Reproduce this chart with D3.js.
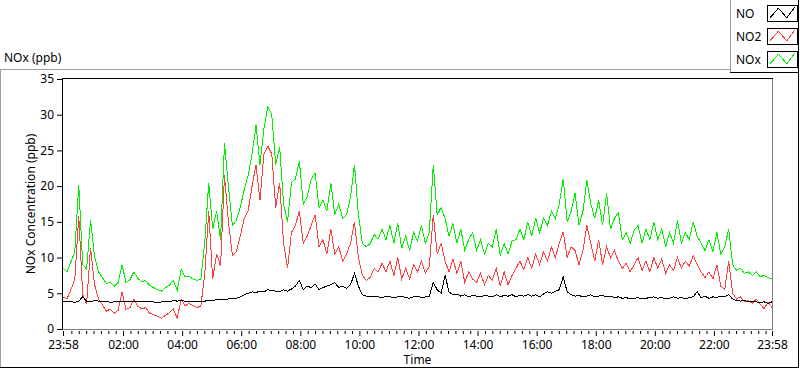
<!DOCTYPE html>
<html>
<head>
<meta charset="utf-8">
<script src="https://cdn.jsdelivr.net/npm/d3@7"></script>
<style>
    body { margin: 0; background: #fff; }
    svg text { font-family: "Noto Sans", sans-serif; font-size: 12px; fill: #000; }
</style>
</head>
<body>
<div id="chart"></div>
<script>
// series names / colours (legend order)
const seriesNames = ["NO", "NO2", "NOx"];
const seriesColors = ["#000000", "#ff4040", "#00f000"];

// one reading every 8 minutes from 23:58 to 23:58 next day
const startTime = "2020-01-01T23:58";
const stepMinutes = 8;

const noValues = [
    3.9, 3.8, 3.9, 3.7, 3.9, 4.5, 3.9, 3.8, 4.0, 3.9,
    3.8, 3.9, 3.7, 3.8, 3.9, 3.8, 3.8, 3.9, 3.8, 3.9,
    3.8, 3.8, 3.9, 3.8, 3.7, 3.8, 3.9, 3.8, 4.0, 3.9,
    4.0, 3.9, 3.8, 3.9, 3.8, 3.9, 3.9, 4.0, 4.0, 4.1,
    4.1, 4.2, 4.2, 4.3, 4.3, 4.5, 4.8, 5.0, 5.2, 5.1,
    5.3, 5.2, 5.5, 5.4, 5.3, 5.2, 5.5, 5.3, 5.6, 6.0,
    6.8, 5.5, 6.0, 5.8, 6.3, 5.5, 5.8, 6.0, 6.2, 6.5,
    5.8, 6.0, 5.7, 6.2, 7.8, 6.0, 4.8, 4.6, 4.5, 4.6,
    4.5, 4.4, 4.6, 4.5, 4.4, 4.5, 4.6, 4.4, 4.3, 4.5,
    4.6, 4.4, 4.5, 4.6, 6.5, 5.5, 5.0, 7.5, 5.2, 4.8,
    4.9, 4.6, 4.8, 4.5, 4.7, 4.6, 4.5, 4.7, 4.6, 4.5,
    4.8, 4.5, 4.7, 4.6, 4.8, 4.5, 4.7, 4.6, 4.8, 4.6,
    4.8, 4.5, 4.9, 5.2, 5.0, 5.3, 5.5, 7.3, 5.2, 4.8,
    4.6, 4.7, 4.5, 4.6, 4.8, 4.5, 4.6, 4.7, 4.5, 4.6,
    4.4, 4.5, 4.3, 4.4, 4.2, 4.3, 4.4, 4.2, 4.3, 4.4,
    4.5, 4.3, 4.4, 4.2, 4.3, 4.5, 4.3, 4.4, 4.2, 4.4,
    4.5, 5.2, 4.4, 4.6, 4.3, 4.5, 4.4, 4.6, 4.5, 4.8,
    4.2, 4.0, 3.9, 4.0, 3.8, 3.9, 3.8, 3.7, 3.8, 3.6, 3.8
];
const no2Values = [
    4.5, 4.2, 5.5, 7.0, 15.8, 4.8, 3.5, 11.4, 6.2, 4.2,
    3.4, 2.5, 2.8, 2.2, 2.6, 5.2, 2.7, 3.0, 4.2, 3.2,
    2.8, 3.0, 2.2, 2.0, 1.8, 1.5, 1.9, 2.3, 2.8, 1.5,
    4.2, 3.2, 3.6, 3.3, 3.0, 3.2, 7.8, 16.5, 7.0, 10.5,
    8.8, 21.5, 15.0, 10.3, 10.8, 13.0, 15.5, 16.5, 20.0, 23.0,
    18.0, 24.5, 25.6, 24.5, 17.0, 20.5, 12.0, 8.5, 13.5, 14.5,
    16.5, 12.0, 13.0, 14.5, 16.0, 11.5, 12.5, 10.5, 14.0, 10.5,
    11.5, 9.5, 10.5, 12.0, 15.0, 10.0, 7.5, 6.8, 7.2, 8.5,
    8.0, 9.2, 8.0, 9.5, 7.5, 10.0, 7.0, 8.5, 7.0, 9.0,
    8.0, 9.5, 7.8, 8.8, 16.0, 10.5, 12.0, 9.5, 8.0, 9.8,
    7.8, 9.5, 6.5, 8.0, 7.0, 6.5, 7.8, 6.2, 7.5, 6.8,
    8.5, 6.0, 8.0, 6.2, 7.5, 8.5, 9.5, 8.3, 10.0, 8.5,
    10.5, 9.0, 10.8, 9.5, 11.5, 10.0, 12.0, 13.6, 10.0, 11.5,
    11.0, 9.0, 11.0, 14.5, 12.0, 9.5, 12.5, 9.0, 11.5, 10.0,
    11.0, 9.5, 8.5, 9.2, 8.0, 9.0, 10.0, 8.2, 9.5, 8.0,
    10.0, 8.5, 9.8, 7.8, 9.0, 8.2, 10.0, 8.5, 9.5, 8.8,
    10.3, 9.0, 8.0, 7.2, 8.0, 7.0, 9.0, 6.0, 5.5, 9.5,
    5.0, 4.2, 4.5, 3.8, 4.0, 3.6, 4.2, 3.5, 2.8, 3.8, 3.0
];
const noxValues = [
    8.5, 8.0, 9.4, 10.8, 20.2, 9.0, 8.4, 15.3, 10.2, 8.0,
    7.2, 6.4, 6.5, 6.0, 6.5, 9.0, 6.5, 6.9, 8.0, 7.1,
    6.6, 6.8, 6.1, 5.8, 5.5, 5.3, 5.8, 6.1, 6.8, 5.4,
    8.3, 7.3, 7.4, 7.0, 6.8, 7.0, 12.2, 20.5, 14.0, 16.5,
    12.5, 26.0, 20.0, 14.5, 15.2, 17.0, 19.5, 21.5, 24.5, 28.5,
    23.0, 28.0, 31.1, 30.0, 23.0, 25.5, 17.5, 15.0, 20.5, 21.0,
    23.5, 17.5, 18.5, 21.0, 21.8, 17.0, 18.0, 16.5, 20.5, 16.0,
    17.5, 15.5, 16.0, 18.5, 23.0, 16.0, 12.0, 11.5, 12.0, 13.2,
    12.6, 14.0, 12.5, 14.5, 12.0, 14.8, 11.3, 13.0, 11.0, 13.5,
    12.3, 14.5, 12.0, 13.5, 23.0, 16.0, 17.0, 15.5, 13.0, 14.8,
    12.0, 14.0, 11.0, 12.5, 13.5, 11.0, 12.5, 10.5, 12.0, 11.5,
    14.0, 10.3, 12.0, 10.5, 12.3, 12.5, 14.0, 12.5, 15.0, 13.0,
    15.5, 13.5, 15.5, 14.5, 16.5, 15.5, 17.5, 21.0, 15.0, 16.5,
    19.0, 14.5, 16.5, 20.8, 17.5, 15.5, 18.0, 14.5, 19.0, 14.0,
    15.5, 16.3, 12.5, 13.5, 12.0, 13.8, 14.5, 12.0, 14.0, 12.5,
    15.0, 12.5, 14.0, 11.5, 13.5, 12.0, 15.2, 12.0, 13.5, 12.5,
    15.0, 13.0, 12.0, 11.0, 12.5, 10.8, 13.5, 10.5, 11.5, 14.0,
    9.0, 8.2, 8.5, 7.8, 8.0, 7.5, 8.0, 7.3, 7.5, 7.2, 7.0
];

const yTicks = [0, 5, 10, 15, 20, 25, 30, 35];
const xTickTimes = [
    "2020-01-01T23:58", "2020-01-02T02:00", "2020-01-02T04:00", "2020-01-02T06:00",
    "2020-01-02T08:00", "2020-01-02T10:00", "2020-01-02T12:00", "2020-01-02T14:00",
    "2020-01-02T16:00", "2020-01-02T18:00", "2020-01-02T20:00", "2020-01-02T22:00",
    "2020-01-02T23:58"
];

const width = 800, height = 369;
const plot = { left: 63, right: 772, top: 79, bottom: 329 };

const parseTime = d3.timeParse("%Y-%m-%dT%H:%M");
const t0 = parseTime(startTime);
const timeAt = i => new Date(t0.getTime() + i * stepMinutes * 60000);
const tickDates = xTickTimes.map(parseTime);

const series = [noValues, no2Values, noxValues].map((vals, k) => ({
    name: seriesNames[k],
    color: seriesColors[k],
    points: vals.map((v, i) => ({ t: timeAt(i), v: v }))
}));

const x = d3.scaleTime()
    .domain([tickDates[0], tickDates[tickDates.length - 1]])
    .range([plot.left, plot.right]);
const y = d3.scaleLinear()
    .domain([0, 35])
    .range([plot.bottom, plot.top]);

const svg = d3.select("#chart").append("svg")
    .attr("width", width)
    .attr("height", height);

// outer frame (grey top/left, black right/bottom)
const frame = svg.append("g").attr("shape-rendering", "crispEdges");
frame.append("line").attr("x1", 0).attr("x2", 798).attr("y1", 69.5).attr("y2", 69.5).attr("stroke", "#a0a0a0");
frame.append("line").attr("x1", 0.5).attr("x2", 0.5).attr("y1", 69).attr("y2", 368).attr("stroke", "#a0a0a0");
frame.append("line").attr("x1", 798.5).attr("x2", 798.5).attr("y1", 69).attr("y2", 368).attr("stroke", "#000");
frame.append("line").attr("x1", 0).attr("x2", 799).attr("y1", 367.5).attr("y2", 367.5).attr("stroke", "#000");

svg.append("text").attr("x", 4).attr("y", 62).text("NOx (ppb)");

// plot frame
svg.append("clipPath").attr("id", "clip").append("rect")
    .attr("x", plot.left - 1).attr("y", plot.top).attr("width", plot.right - plot.left + 2).attr("height", plot.bottom - plot.top + 1);

const lineGen = d3.line().x(d => x(d.t)).y(d => y(d.v));
const linesG = svg.append("g").attr("clip-path", "url(#clip)");
series.slice().reverse().forEach(s => {
    linesG.append("path")
        .datum(s.points)
        .attr("d", lineGen)
        .attr("fill", "none")
        .attr("stroke", s.color)
        .attr("stroke-width", 1)
        .attr("shape-rendering", "crispEdges");
});

const pf = svg.append("g").attr("shape-rendering", "crispEdges");
pf.append("line").attr("x1", plot.left - 1).attr("x2", plot.right + 1).attr("y1", plot.top - 0.5).attr("y2", plot.top - 0.5).attr("stroke", "#000");
pf.append("line").attr("x1", plot.left - 0.5).attr("x2", plot.left - 0.5).attr("y1", plot.top - 1).attr("y2", plot.bottom + 1).attr("stroke", "#000");
pf.append("line").attr("x1", plot.right + 0.5).attr("x2", plot.right + 0.5).attr("y1", plot.top).attr("y2", plot.bottom + 1).attr("stroke", "#808080");
pf.append("line").attr("x1", plot.left).attr("x2", plot.right + 1).attr("y1", plot.bottom + 0.5).attr("y2", plot.bottom + 0.5).attr("stroke", "#808080");

// y axis
const yAxis = d3.axisLeft(y).tickValues(yTicks).tickSize(5).tickPadding(3);
const yG = svg.append("g")
    .attr("transform", "translate(" + (plot.left - 1) + ",0)")
    .call(yAxis);
yG.select(".domain").remove();
yG.selectAll("text").style("font-family", "\"Noto Sans\", sans-serif").style("font-size", "12px").attr("fill", "#000");

// x axis: minor ticks every 15 min, major ticks with labels
const minorTicks = d3.timeMinute.every(15).range(timeAt(1), tickDates[tickDates.length - 1])
    .filter(d => !tickDates.some(m => m.getTime() === d.getTime()));
const xMinor = svg.append("g")
    .attr("transform", "translate(0," + (plot.bottom + 2) + ")")
    .call(d3.axisBottom(x).tickValues(minorTicks).tickSize(3).tickFormat(""));
xMinor.select(".domain").remove();

const xMajor = svg.append("g")
    .attr("transform", "translate(0," + (plot.bottom + 2) + ")")
    .call(d3.axisBottom(x).tickValues(tickDates).tickSize(5).tickPadding(4).tickFormat(d3.timeFormat("%H:%M")));
xMajor.select(".domain").remove();
xMajor.selectAll("text").style("font-family", "\"Noto Sans\", sans-serif").style("font-size", "12px").attr("fill", "#000");

svg.append("text")
    .attr("x", (plot.left + plot.right) / 2)
    .attr("y", 364)
    .attr("text-anchor", "middle")
    .text("Time");

svg.append("text")
    .attr("transform", "translate(35," + ((plot.top + plot.bottom) / 2) + ") rotate(-90)")
    .attr("text-anchor", "middle")
    .text("NOx Concentration (ppb)");

// legend
const lg = svg.append("g").attr("shape-rendering", "crispEdges");
lg.append("rect").attr("x", 730).attr("y", 0).attr("width", 69).attr("height", 73).attr("fill", "#fff");
lg.append("line").attr("x1", 730.5).attr("x2", 730.5).attr("y1", 0).attr("y2", 73).attr("stroke", "#a0a0a0");
lg.append("line").attr("x1", 730).attr("x2", 799).attr("y1", 72.5).attr("y2", 72.5).attr("stroke", "#000");
lg.append("line").attr("x1", 798.5).attr("x2", 798.5).attr("y1", 0).attr("y2", 73).attr("stroke", "#000");

const swatch = { x: 767, w: 30, h: 16 };
const zig = [[0.1, 0.8], [0.38, 0.2], [0.66, 0.8], [0.92, 0.15]];
series.forEach((s, k) => {
    const base = 18 + k * 23;
    svg.append("text").attr("x", 736).attr("y", base).text(s.name);
    const g = svg.append("g").attr("transform", "translate(" + swatch.x + "," + (base - 13) + ")");
    g.append("rect")
        .attr("x", 0.5).attr("y", 0.5)
        .attr("width", swatch.w).attr("height", swatch.h)
        .attr("fill", "#fff").attr("stroke", "#000")
        .attr("shape-rendering", "crispEdges");
    g.append("path")
        .attr("d", d3.line()(zig.map(p => [p[0] * swatch.w, p[1] * swatch.h])))
        .attr("fill", "none")
        .attr("stroke", s.color)
        .attr("shape-rendering", "crispEdges");
});
</script>
</body>
</html>
